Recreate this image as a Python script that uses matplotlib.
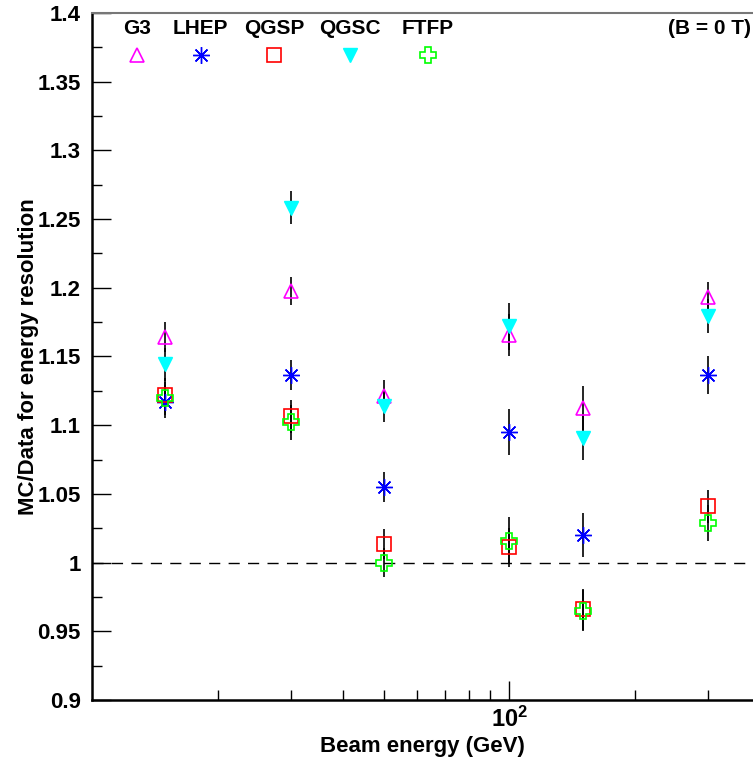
import numpy as np
import matplotlib
matplotlib.use("Agg")
import matplotlib.pyplot as plt
from matplotlib.ticker import FixedLocator, NullFormatter, FixedFormatter, MultipleLocator

plt.rcParams['font.family'] = ['Liberation Sans', 'DejaVu Sans']
plt.rcParams['font.weight'] = 'bold'
plt.rcParams['mathtext.fontset'] = 'custom'
plt.rcParams['mathtext.bf'] = 'Liberation Sans:bold'
plt.rcParams['mathtext.rm'] = 'Liberation Sans:bold'

energies = [15, 30, 50, 100, 150, 300]

g3 = [1.164, 1.1976, 1.121, 1.1656, 1.1124, 1.193]
g3_err = [0.011, 0.010, 0.012, 0.015, 0.016, 0.011]
lhep = [1.117, 1.1365, 1.055, 1.095, 1.020, 1.1365]
lhep_err = [0.012, 0.011, 0.011, 0.017, 0.016, 0.0135]
qgsp = [1.1223, 1.1066, 1.0134, 1.011, 0.966, 1.041]
qgsp_err = [0.012, 0.012, 0.011, 0.014, 0.015, 0.012]
qgsc = [1.1445, 1.2584, 1.114, 1.172, 1.0906, 1.1794]
qgsc_err = [0.012, 0.012, 0.012, 0.017, 0.016, 0.0125]
ftfp = [1.1197, 1.102, 1.0, 1.016, 0.965, 1.0287]
ftfp_err = [0.012, 0.013, 0.0105, 0.017, 0.015, 0.013]

names = ["G3", "LHEP", "QGSP", "QGSC", "FTFP"]


def main():
    fig = plt.figure(figsize=(7.53, 7.63), dpi=100)
    ax = fig.add_axes([0.122, 0.0826, 0.877, 0.9004])

    series = [
        (g3, g3_err, dict(marker='^', ms=10, mfc='none', mec='#ff00ff', mew=1.2)),
        (lhep, lhep_err, dict(marker=(8, 2, 0), ms=12, mfc='#0000ff', mec='#0000ff', mew=1.0)),
        (qgsp, qgsp_err, dict(marker='s', ms=10, mfc='none', mec='#ff0000', mew=1.2)),
        (qgsc, qgsc_err, dict(marker='v', ms=10, mfc='#00ffff', mec='#00ffff', mew=1.0)),
        (ftfp, ftfp_err, dict(marker='P', ms=11, mfc='none', mec='#00ff00', mew=1.2)),
    ]

    for vals, errs, style in series:
        ax.errorbar(energies, vals, yerr=errs, fmt='none', ecolor='k', elinewidth=1.2, zorder=2)
    for vals, errs, style in series:
        ax.plot(energies, vals, linestyle='none', zorder=3, **style)

    ax.axhline(1.0, color='k', lw=1.0, dashes=(8, 6), zorder=1)

    ax.set_xscale('log')
    ax.set_xlim(10, 382)
    ax.set_ylim(0.9, 1.4)

    ax.xaxis.set_major_locator(FixedLocator([100]))
    ax.xaxis.set_major_formatter(FixedFormatter([r'$\mathbf{10^{2}}$']))
    ax.xaxis.set_minor_locator(FixedLocator([20, 30, 40, 50, 60, 70, 80, 90, 200, 300]))
    ax.xaxis.set_minor_formatter(NullFormatter())

    ax.yaxis.set_major_locator(MultipleLocator(0.05))
    ax.yaxis.set_minor_locator(MultipleLocator(0.025))
    ax.yaxis.set_major_formatter(plt.FuncFormatter(lambda v, p: ('%.2f' % v).rstrip('0').rstrip('.')))

    ax.tick_params(axis='both', which='major', direction='in', length=14, width=1.0,
                   labelsize=16, pad=8)
    ax.tick_params(axis='both', which='minor', direction='in', length=7, width=1.0)
    ax.tick_params(axis='x', which='major', pad=5, labelsize=17)
    for lab in ax.get_xticklabels() + ax.get_yticklabels():
        lab.set_fontweight('bold')

    ax.spines['left'].set_linewidth(1.8)
    ax.spines['bottom'].set_linewidth(1.8)
    ax.spines['top'].set_color('#777777')
    ax.spines['top'].set_linewidth(1.5)
    ax.spines['right'].set_visible(False)

    ax.set_xlabel('Beam energy (GeV)', fontsize=16, fontweight='bold', labelpad=3)
    ax.set_ylabel('MC/Data for energy resolution', fontsize=16, fontweight='bold', labelpad=-1)

    # legend drawn by hand: name above marker
    legend_x = [0.068, 0.165, 0.276, 0.391, 0.509]
    for name, (vals, errs, style), lx in zip(names, series, legend_x):
        ax.text(lx, 0.978, name, transform=ax.transAxes, ha='center', va='center',
                fontsize=15, fontweight='bold')
        ax.plot([lx], [0.939], transform=ax.transAxes, linestyle='none', clip_on=False, **style)

    ax.text(0.998, 0.978, '(B = 0 T)', transform=ax.transAxes, ha='right', va='center',
            fontsize=15, fontweight='bold')

    fig.savefig('out.png', dpi=100)


if __name__ == "__main__":
    main()
